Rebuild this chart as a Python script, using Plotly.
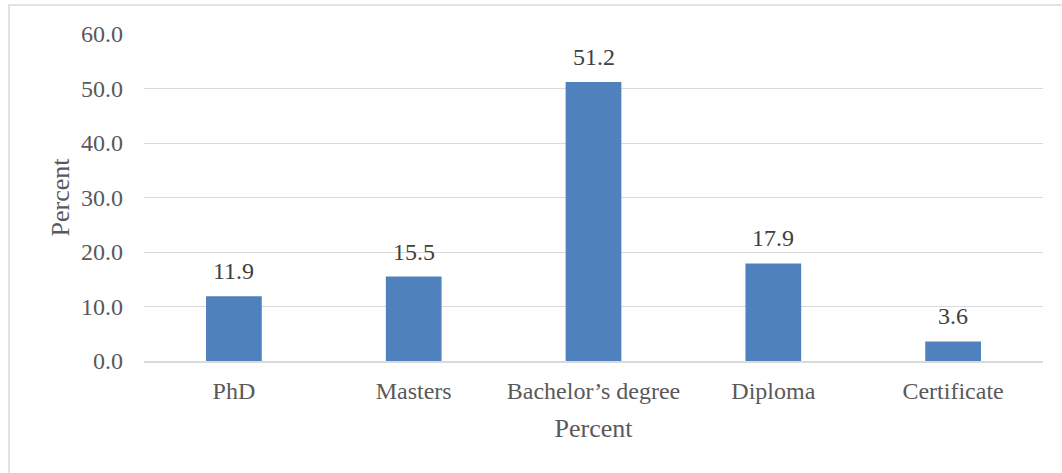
import plotly.graph_objects as go

categories = ["PhD", "Masters", "Bachelor’s degree", "Diploma", "Certificate"]
values = [11.9, 15.5, 51.2, 17.9, 3.6]
y_ticks = [0, 10, 20, 30, 40, 50, 60]

FONT = "Liberation Serif"

fig = go.Figure(go.Bar(
    x=categories, y=values,
    marker=dict(color="#4F81BD", line=dict(width=0)),
    width=0.31,
))

for c, v in zip(categories, values):
    fig.add_annotation(x=c, y=v, text=f"{v:.1f}", showarrow=False,
                       yanchor="bottom", yshift=10,
                       font=dict(family=FONT, size=24, color="#404040"))

L, R, T, B = 144, 19, 34, 112
W, H = 1062, 473
pw, ph = W - L - R, H - T - B

fig.add_shape(type="rect", xref="paper", yref="paper",
              x0=(9 - L) / pw, x1=(1075 - L) / pw,
              y0=(H - B - 485) / ph, y1=(H - B - 5) / ph,
              line=dict(color="#D9D9D9", width=1.5), fillcolor="rgba(0,0,0,0)", layer="below")

fig.update_layout(
    width=W, height=H,
    margin=dict(l=L, r=R, t=T, b=B),
    plot_bgcolor="white", paper_bgcolor="white",
    showlegend=False,
    font=dict(family=FONT, size=24, color="#595959"),
    bargap=0.69,
)
fig.update_yaxes(
    range=[0, 60], tickvals=y_ticks, ticktext=[f"{t:.1f}" for t in y_ticks],
    showgrid=True, gridcolor="#D9D9D9", gridwidth=1.3, zeroline=False,
    showline=False, ticklabelstandoff=20,
    tickfont=dict(family=FONT, size=24, color="#595959"),
    title=dict(text="Percent", font=dict(family=FONT, size=26, color="#595959"), standoff=3),
)
fig.update_xaxes(
    showline=True, linecolor="#D9D9D9", linewidth=1.5, ticks="",
    ticklabelstandoff=7,
    tickfont=dict(family=FONT, size=24, color="#595959"),
    title=dict(text="Percent", font=dict(family=FONT, size=26, color="#595959"), standoff=16),
)

fig.write_html("out.html")
